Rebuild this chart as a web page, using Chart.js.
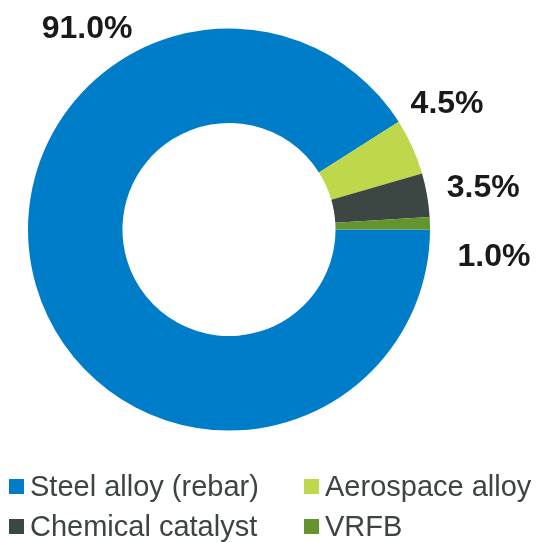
<!DOCTYPE html>
<html>
<head>
<meta charset="utf-8">
<script src="https://cdn.jsdelivr.net/npm/chart.js@4/dist/chart.umd.min.js"></script>
<style>
  html, body { margin: 0; padding: 0; background: #ffffff; }
  #wrap { width: 537px; height: 542px; }
</style>
</head>
<body>
<div id="wrap"><canvas id="c" width="537" height="542"></canvas></div>
<script>
// Share of end use
const categories = ['Steel alloy (rebar)', 'Aerospace alloy', 'Chemical catalyst', 'VRFB'];
const shares = [91.0, 4.5, 3.5, 1.0];
const sliceColors = ['#007dc8', '#bfd84b', '#3c4643', '#64942e'];

const FONT = '"Liberation Sans", Arial, Helvetica, sans-serif';

// Percentage callouts placed around the ring (angle in degrees, distance as a multiple of the outer radius)
const calloutPlugin = {
  id: 'callouts',
  afterDatasetsDraw(chart, args, opts) {
    const ctx = chart.ctx;
    const meta = chart.getDatasetMeta(0);
    const values = chart.data.datasets[0].data;
    ctx.save();
    ctx.font = 'bold ' + opts.size + 'px ' + FONT;
    ctx.fillStyle = opts.color;
    ctx.textAlign = 'center';
    ctx.textBaseline = 'alphabetic';
    meta.data.forEach((arc, i) => {
      const p = opts.placement[i];
      const a = p.angle * Math.PI / 180;
      const d = arc.outerRadius * p.dist;
      const x = arc.x + Math.cos(a) * d;
      const y = arc.y + Math.sin(a) * d;
      ctx.fillText(values[i].toFixed(1) + '%', x, y + opts.size * 0.716 / 2);
    });
    ctx.restore();
  }
};

// Two-column legend beneath the ring
const gridLegendPlugin = {
  id: 'gridLegend',
  afterDraw(chart, args, opts) {
    const ctx = chart.ctx;
    const labels = chart.data.labels;
    const colors = chart.data.datasets[0].backgroundColor;
    ctx.save();
    ctx.font = opts.size + 'px ' + FONT;
    ctx.textAlign = 'left';
    ctx.textBaseline = 'alphabetic';
    labels.forEach((label, i) => {
      const col = i % opts.columns.length;
      const row = Math.floor(i / opts.columns.length);
      const x = opts.columns[col];
      const base = opts.baselines[row];
      ctx.fillStyle = colors[i];
      ctx.fillRect(x, base - 17, opts.box, opts.box);
      ctx.fillStyle = opts.color;
      ctx.fillText(label, x + opts.box + 6, base);
    });
    ctx.restore();
  }
};

new Chart(document.getElementById('c'), {
  type: 'doughnut',
  data: {
    labels: categories,
    datasets: [{
      data: shares,
      backgroundColor: sliceColors,
      borderWidth: 0,
      hoverOffset: 0
    }]
  },
  options: {
    responsive: false,
    animation: false,
    rotation: 90,
    cutout: '53%',
    layout: { padding: { left: 28, right: 107, top: 28, bottom: 111 } },
    plugins: {
      legend: { display: false },
      tooltip: { enabled: false },
      callouts: {
        size: 32,
        color: '#1a1a1a',
        placement: [
          { angle: -125.0, dist: 1.231 },
          { angle: -30.4, dist: 1.258 },
          { angle: -9.9, dist: 1.284 },
          { angle: 5.3, dist: 1.324 }
        ]
      },
      gridLegend: {
        size: 29,
        color: '#3d4543',
        box: 15,
        columns: [9, 304],
        baselines: [496, 536]
      }
    }
  },
  plugins: [calloutPlugin, gridLegendPlugin]
});
</script>
</body>
</html>
